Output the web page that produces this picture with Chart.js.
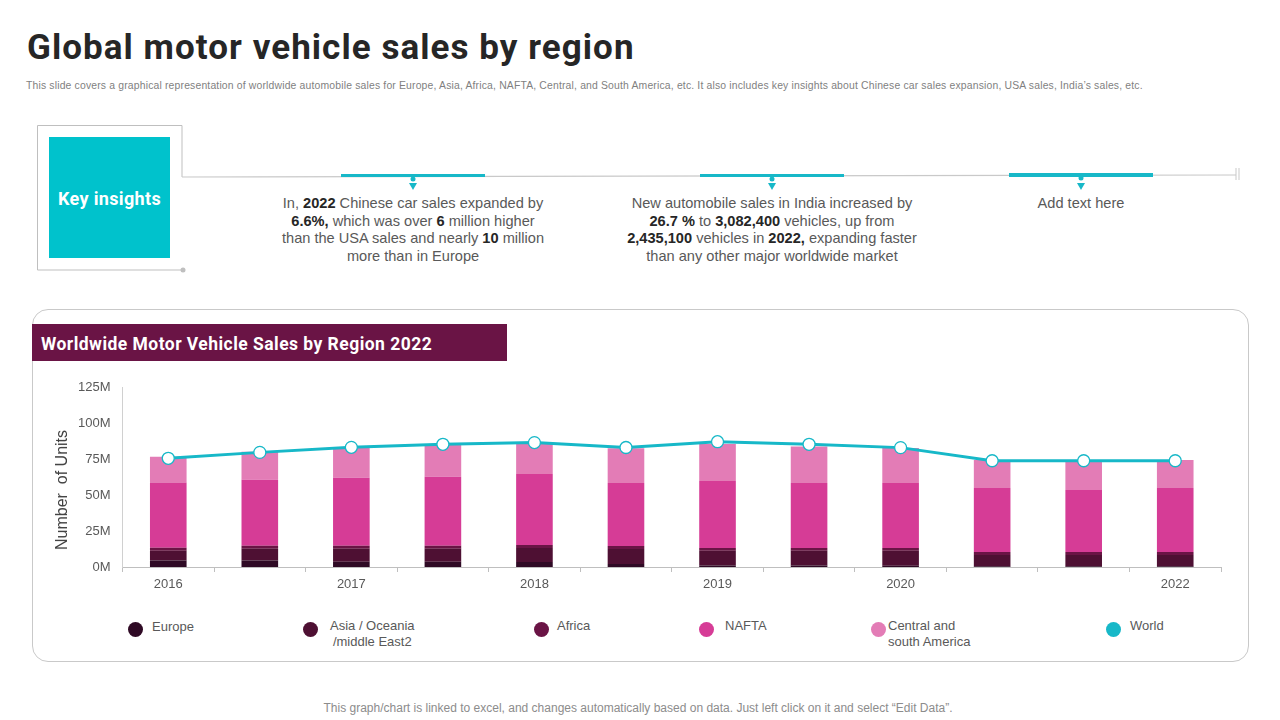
<!DOCTYPE html>
<html>
<head>
<meta charset="utf-8">
<script src="https://cdn.jsdelivr.net/npm/chart.js@4"></script>
<style>
  html, body { margin: 0; padding: 0; background: #fff; }
  body { width: 1280px; height: 720px; position: relative; overflow: hidden; font-family: "Liberation Sans", sans-serif; color: #595959; }
  .abs { position: absolute; }
  h1 { position: absolute; left: 27px; top: 26px; margin: 0; font: 700 35px/44px Roboto, sans-serif; letter-spacing: 1.05px; color: #262626; white-space: nowrap; }
  .sub { position: absolute; left: 26px; top: 79px; font-size: 10.4px; line-height: 13px; color: #7f7f7f; white-space: nowrap; letter-spacing: .167px; }
  .key { position: absolute; left: 49px; top: 137px; width: 121px; height: 121px; background: #00c2cc; color: #fff; font: 700 18px/124px Roboto, sans-serif; letter-spacing: .35px; text-align: center; }
  .insight { position: absolute; width: 290px; text-align: center; font-size: 14.6px; line-height: 17.6px; top: 195px; color: #595959; white-space: nowrap; }
  .insight b { color: #262626; }
  .panel { position: absolute; left: 32px; top: 309px; width: 1215px; height: 351px; border: 1px solid #c9c9c9; border-radius: 16px; box-sizing: content-box; }
  .band { position: absolute; left: 32px; top: 324px; width: 475px; height: 37px; background: #6a1445; color: #fff; font: 700 17.5px/40px Roboto, sans-serif; padding-left: 9px; box-sizing: border-box; letter-spacing: .46px; white-space: nowrap; }
  #chartWrap { position: absolute; left: 40px; top: 375px; width: 1190px; height: 225px; }
  .ytitle { position: absolute; left: 62px; top: 490px; transform: translate(-50%, -50%) rotate(-90deg); font-size: 16px; color: #404040; white-space: pre; }
  .leg { position: absolute; font-size: 13px; line-height: 15.5px; color: #595959; white-space: nowrap; }
  .dot { position: absolute; width: 15px; height: 15px; border-radius: 50%; }
  .foot { position: absolute; left: 0; width: 1276px; top: 701px; text-align: center; font-size: 12px; line-height: 15px; color: #8c8c8c; }
</style>
</head>
<body>
<h1>Global motor vehicle sales by region</h1>
<div class="sub">This slide covers a graphical representation of worldwide automobile sales for Europe, Asia, Africa, NAFTA, Central, and South America, etc. It also includes key insights about Chinese car sales expansion, USA sales, India’s sales, etc.</div>

<svg class="abs" style="left:0;top:0" width="1280" height="300">
  <path d="M182 177 V125.5 H37.5 V270 H183" fill="none" stroke="#bfbfbf" stroke-width="1"/>
  <circle cx="183" cy="270" r="2.5" fill="#bfbfbf"/>
  <line x1="182" y1="177" x2="1236" y2="175" stroke="#c9c9c9" stroke-width="1.2"/>
  <line x1="1236" y1="168" x2="1236" y2="180" stroke="#c9c9c9"/>
  <line x1="1239" y1="168" x2="1239" y2="180" stroke="#c9c9c9"/>
  <g fill="#17b8c8">
    <rect x="341" y="174" width="144" height="3"/>
    <circle cx="413" cy="179" r="2.5"/>
    <path d="M409 183 h8 l-4 7 z"/>
    <rect x="700" y="174" width="144" height="3"/>
    <circle cx="772" cy="179" r="2.5"/>
    <path d="M768 183 h8 l-4 7 z"/>
    <rect x="1009" y="173" width="144" height="4"/>
    <circle cx="1081" cy="178" r="2.5"/>
    <path d="M1077 183 h8 l-4 7 z"/>
  </g>
</svg>
<div class="key">Key insights</div>
<div class="insight" style="left:268px">In, <b>2022</b> Chinese car sales expanded by<br><b>6.6%,</b> which was over <b>6</b> million higher<br>than the USA sales and nearly <b>10</b> million<br>more than in Europe</div>
<div class="insight" style="left:627px">New automobile sales in India increased by<br><b>26.7 %</b> to <b>3,082,400</b> vehicles, up from<br><b>2,435,100</b> vehicles in <b>2022,</b> expanding faster<br>than any other major worldwide market</div>
<div class="insight" style="left:936px">Add text here</div>

<div class="panel"></div>
<div class="band">Worldwide Motor Vehicle Sales by Region 2022</div>
<div id="chartWrap"><canvas id="salesChart"></canvas></div>
<div class="ytitle">Number  of Units</div>
<div id="legend"></div>
<div class="foot">This graph/chart is linked to excel, and changes automatically based on data. Just left click on it and select “Edit Data”.</div>

<script>
// values in millions of units
const categories = ['2016', '', '2017', '', '2018', '', '2019', '', '2020', '', '', '2022'];
const europe = [4.6, 4.6, 3.7, 3.7, 3.5, 2.1, 1, 1, 0.8, 0.5, 0.5, 0.5];
const asia = [6.7, 8.1, 9, 9, 9.7, 10.4, 10.3, 10.3, 10.5, 7.8, 7.8, 7.8];
const africa = [2.1, 2.1, 2.1, 2.1, 2.1, 2.1, 1.9, 1.9, 1.9, 2.1, 2.1, 2.1];
const nafta = [45.2, 45.8, 47.2, 47.9, 49.3, 43.7, 46.5, 45.1, 45.1, 44.5, 43.1, 44.5];
const central = [18, 19.4, 21, 22.3, 20.8, 24.1, 25.7, 25.3, 24.3, 19.4, 20.5, 19.4];
const world = [75.5, 79.6, 83.1, 85.2, 86.4, 83, 87, 85.2, 82.9, 73.8, 73.8, 73.8];

const colors = {
    europe: '#2f0a25',
    asia: '#4e1033',
    africa: '#6a1445',
    nafta: '#d63c96',
    central: '#e37cb6',
    world: '#17b8c8'
};

function barSet(label, data, color) {
    return { type: 'bar', label: label, data: data, backgroundColor: color, borderWidth: 0, barPercentage: 1, categoryPercentage: 0.4, order: 2 };
}

new Chart(document.getElementById('salesChart'), {
    data: {
        labels: categories,
        datasets: [
            {
                type: 'line',
                label: 'World',
                data: world,
                borderColor: colors.world,
                borderWidth: 3,
                tension: 0,
                pointRadius: 6,
                pointBackgroundColor: '#fff',
                pointBorderColor: colors.world,
                pointBorderWidth: 1.3,
                order: 1
            },
            barSet('Europe', europe, colors.europe),
            barSet('Asia / Oceania /middle East2', asia, colors.asia),
            barSet('Africa', africa, colors.africa),
            barSet('NAFTA', nafta, colors.nafta),
            barSet('Central and south America', central, colors.central)
        ]
    },
    options: {
        responsive: true,
        maintainAspectRatio: false,
        animation: false,
        layout: { padding: { top: 12, right: 9, bottom: 0, left: 0 } },
        plugins: { legend: { display: false }, tooltip: { enabled: false } },
        scales: {
            x: {
                stacked: true,
                afterFit: (scale) => { scale.height = 33; },
                grid: { offset: true, drawOnChartArea: false, color: '#bfbfbf', tickLength: 5 },
                border: { color: '#bfbfbf' },
                ticks: { autoSkip: false, maxRotation: 0, color: '#595959', padding: 5, font: { family: 'Liberation Sans', size: 13 } }
            },
            y: {
                stacked: true,
                min: 0,
                max: 125,
                afterFit: (scale) => { scale.width = 82.5; },
                grid: { display: false },
                border: { color: '#d0d0d0' },
                ticks: { stepSize: 25, color: '#595959', padding: 4, callback: (v) => v + 'M', font: { family: 'Liberation Sans', size: 13 } }
            }
        }
    }
});

// legend sits in uneven slots in the reference, so it is placed by hand
const legendItems = [
    { lines: ['Europe'], color: colors.europe, dot: 128, text: 152, top: 619 },
    { lines: ['Asia / Oceania', '/middle East2'], color: colors.asia, dot: 303, text: 330, top: 618, center: true },
    { lines: ['Africa'], color: colors.africa, dot: 534, text: 557, top: 618 },
    { lines: ['NAFTA'], color: colors.nafta, dot: 699, text: 725, top: 618 },
    { lines: ['Central and', 'south America'], color: colors.central, dot: 871, text: 888, top: 618 },
    { lines: ['World'], color: colors.world, dot: 1106, text: 1130, top: 618 }
];
const legendEl = document.getElementById('legend');
legendItems.forEach((it) => {
    const d = document.createElement('div');
    d.className = 'dot';
    d.style.cssText = 'left:' + it.dot + 'px;top:622px;background:' + it.color;
    legendEl.appendChild(d);
    const t = document.createElement('div');
    t.className = 'leg';
    t.style.cssText = 'left:' + it.text + 'px;top:' + it.top + 'px;' + (it.center ? 'text-align:center;' : '');
    t.innerHTML = it.lines.join('<br>');
    legendEl.appendChild(t);
});
</script>
</body>
</html>
